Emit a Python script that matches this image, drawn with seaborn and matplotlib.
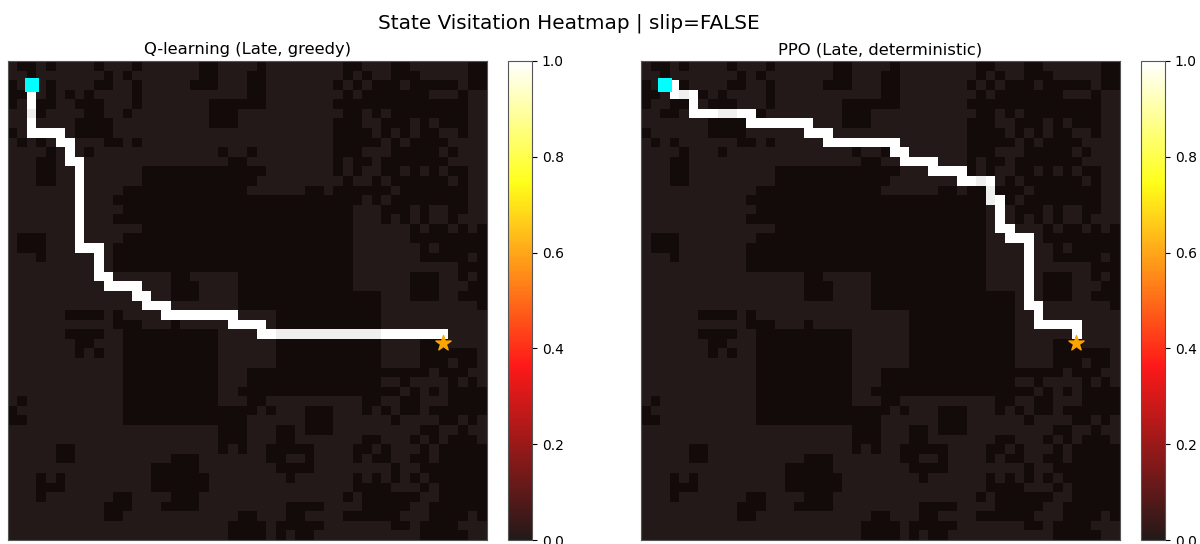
import numpy as np
import matplotlib
matplotlib.use("Agg")
import matplotlib.pyplot as plt
import seaborn as sns

GRID = 50
SUPTITLE = "State Visitation Heatmap | slip=FALSE"
TITLES = ["Q-learning (Late, greedy)", "PPO (Late, deterministic)"]
START = (2, 2)   # col, row
GOAL = (45, 29)  # col, row
CBAR_TICKS = [0.0, 0.2, 0.4, 0.6, 0.8, 1.0]

# holes per row: inclusive column runs
HOLES = [
 [(1,2),(4,4),(9,9),(13,13),(20,21),(26,26),(35,36),(40,41),(48,49)],
 [(2,2),(10,10),(12,12),(20,21),(25,26),(35,35),(37,37),(40,42),(48,49)],
 [(0,0),(4,4),(9,10),(13,13),(19,21),(25,26),(34,34),(36,36),(38,40),(42,46),(48,49)],
 [(0,1),(4,4),(6,6),(8,8),(13,13),(25,26),(35,35),(37,43),(47,47)],
 [(0,0),(3,4),(7,9),(13,13),(21,26),(34,47)],
 [(2,3),(8,9),(12,12),(21,23),(35,36),(38,38),(40,47)],
 [(7,10),(21,23),(34,36),(39,41),(43,43),(45,47)],
 [(0,0),(7,10),(34,37),(39,39),(41,41),(43,44),(47,47)],
 [(1,1),(3,3),(10,11),(13,13),(34,38),(40,40),(42,45)],
 [(4,4),(8,8),(22,22),(25,25),(34,36),(40,44),(46,46)],
 [(3,4),(23,24),(34,34),(36,37),(39,45)],
 [(3,4),(14,26),(34,34),(36,36),(39,40),(42,42),(44,44),(46,47)],
 [(3,4),(14,25),(35,35),(38,38),(40,45),(47,47)],
 [(12,24),(31,32),(34,39),(41,47)],
 [(11,36),(38,38),(40,47)],
 [(12,35),(39,41),(43,43),(46,47)],
 [(11,35),(39,39),(41,41),(43,43),(46,46)],
 [(14,35),(42,42),(44,45),(47,47),(49,49)],
 [(1,3),(12,35),(42,49)],
 [(1,3),(11,35),(43,43),(45,49)],
 [(3,3),(11,35),(43,47),(49,49)],
 [(11,35),(47,49)],
 [(17,18),(24,35),(42,44),(47,47),(49,49)],
 [(17,19),(24,35),(42,44),(48,49)],
 [(17,19),(24,38),(42,44),(47,49)],
 [(24,38),(49,49)],
 [(6,9),(11,11),(28,38)],
 [(11,13),(17,17),(28,38)],
 [(6,9),(12,21),(28,38)],
 [(7,8),(12,21),(28,38),(43,45)],
 [(7,7),(9,9),(12,21),(28,38),(43,48)],
 [(12,21),(28,38),(43,45),(47,48)],
 [(12,21),(25,43),(45,47)],
 [(12,21),(25,38),(41,41),(46,46),(48,48)],
 [(12,21),(24,40),(42,42),(44,44),(46,49)],
 [(1,1),(12,21),(25,26),(37,38),(41,42),(46,49)],
 [(0,0),(12,25),(27,27),(31,33),(37,37),(39,39),(41,42),(44,49)],
 [(0,1),(12,24),(31,33),(40,40),(45,46),(48,48)],
 [(22,24),(28,29),(31,33),(43,44),(47,47)],
 [(22,24),(28,29),(37,38),(42,42),(44,44),(46,48)],
 [(5,6),(22,22),(24,24),(27,31),(36,37),(39,39),(43,43),(45,49)],
 [(5,6),(17,19),(27,28),(31,31),(36,36),(38,39),(42,43),(45,49)],
 [(15,19),(28,31),(40,40),(43,49)],
 [(3,3),(5,5),(15,20),(29,29),(36,36),(38,38),(40,40),(42,42),(44,49)],
 [(3,5),(15,20),(36,39),(43,43),(45,49)],
 [(3,3),(11,12),(17,19),(35,35),(37,42),(45,49)],
 [(10,12),(16,19),(29,32),(37,41),(44,49)],
 [(10,11),(24,25),(29,30),(35,40),(44,47),(49,49)],
 [(23,26),(28,32),(40,41),(43,46)],
 [(23,26),(28,28),(30,31),(43,47)],
]

# visited cells: (row, first col, last col)
PATH_Q = [(2,2,2),(3,2,2),(4,2,2),(5,2,2),(6,2,2),(7,2,5),(8,5,6),(9,6,6),(10,6,7),
          (11,7,7),(12,7,7),(13,7,7),(14,7,7),(15,7,7),(16,7,7),(17,7,7),(18,7,7),
          (19,7,9),(20,9,9),(21,9,9),(22,9,10),(23,10,13),(24,13,14),(25,14,16),
          (26,16,23),(27,23,26),(28,26,45)]
PATH_PPO = [(2,2,3),(3,3,5),(4,5,5),(5,5,11),(6,11,17),(7,17,19),(8,19,26),(9,26,27),
            (10,27,30),(11,30,33),(12,33,36),(13,36,36),(14,36,37),(15,37,37),(16,37,37),
            (17,37,38),(18,38,40),(19,40,40),(20,40,40),(21,40,40),(22,40,40),(23,40,40),
            (24,40,40),(25,40,41),(26,41,41),(27,41,45),(28,45,45)]

def runs_to_grid(items):
    g = np.zeros((GRID, GRID))
    for r, a, b in items:
        g[r, a:b + 1] = 1.0
    return g

terrain = np.ones((GRID, GRID))
for r, runs in enumerate(HOLES):
    for a, b in runs:
        terrain[r, a:b + 1] = 0.39

W, H = 1200, 544
fig = plt.figure(figsize=(W / 100, H / 100), dpi=100)
fig.patch.set_facecolor("white")

def rect(l, t, r, b):
    return [l / W, 1 - b / H, (r - l) / W, (b - t) / H]

panels = [
    (rect(7.7, 61, 486.7, 540), rect(508, 61, 532, 540), PATH_Q, TITLES[0]),
    (rect(641, 61, 1120, 540), rect(1141, 61, 1165, 540), PATH_PPO, TITLES[1]),
]

for ax_box, cax_box, path, title in panels:
    ax = fig.add_axes(ax_box)
    cax = fig.add_axes(cax_box)
    sns.heatmap(terrain, cmap="gray", vmin=0, vmax=1, cbar=False, ax=ax,
                xticklabels=False, yticklabels=False)
    sns.heatmap(runs_to_grid(path), cmap="hot", vmin=0, vmax=1, alpha=0.9, ax=ax,
                cbar_ax=cax, xticklabels=False, yticklabels=False)
    cb = ax.collections[-1].colorbar
    ax.scatter(START[0] + 0.5, START[1] + 0.5, marker="s", s=88, c="cyan", zorder=5, linewidths=0)
    ax.scatter(GOAL[0] + 0.4, GOAL[1] + 0.45, marker="*", s=130, c="orange", zorder=5,
               edgecolors="orange", linewidths=1.0)
    ax.set_title(title, fontsize=11.8, pad=5)
    for s in ax.spines.values():
        s.set_visible(True)
        s.set_linewidth(0.8)
        s.set_color("#555555")
    cb.set_ticks(CBAR_TICKS)
    cax.tick_params(labelsize=10, length=3.5, width=0.8)
    cb.outline.set_visible(True)
    cb.outline.set_linewidth(0.8)
    cb.outline.set_edgecolor("#555555")

fig.text(568.5 / W, 1 - 23 / H, SUPTITLE, ha="center", va="center", fontsize=14.4)
fig.savefig("out.png", dpi=100)
